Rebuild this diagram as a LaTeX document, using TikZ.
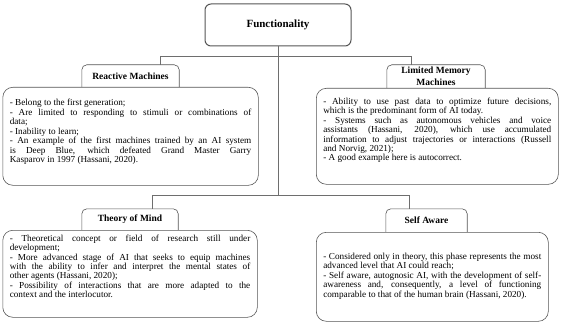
\documentclass[tikz,border=0pt]{standalone}
\usepackage{fontspec}
\setmainfont{Liberation Serif}
\usetikzlibrary{positioning}
\definecolor{framegray}{RGB}{85,85,85}
\definecolor{linkgray}{RGB}{110,110,110}
\tikzset{
  topbox/.style={rectangle, rounded corners=6pt, draw=framegray, line width=1pt,
                 minimum width=146pt, minimum height=42pt,
                 font=\fontsize{11}{13}\selectfont\bfseries},
  headbox/.style={rectangle, inner sep=0pt, align=center,
                  font=\fontsize{9.5}{11.5}\selectfont\bfseries},
  headline/.style={draw=framegray, line width=0.6pt, rounded corners=5pt},
  textbox/.style={rectangle, rounded corners=10pt, draw=framegray, line width=0.6pt,
                  fill=white, anchor=north west, align=justify,
                  inner xsep=7pt, inner ysep=0pt,
                  font=\fontsize{9.2}{9.45}\selectfont},
  link/.style={draw=linkgray, line width=0.6pt},
}

\begin{document}
\begin{tikzpicture}[x=1pt, y=-1pt]
  \useasboundingbox (0,0) rectangle (567,326);

  % root
  \node[topbox] (fun) at (278,25) {Functionality};

  % junctions
  \coordinate (rmj) at (160,56);
  \coordinate (lmj) at (411,56);
  \coordinate (tmj) at (152,195);
  \coordinate (saj) at (409,195);

  % tabs
  \node[headbox, minimum width=97pt, minimum height=22pt] (rmh) at (130.5,76) {Reactive Machines};
  \node[headbox, minimum width=98pt, minimum height=23pt] (lmh) at (436,76.5) {Limited Memory\\Machines};
  \node[headbox, minimum width=96pt, minimum height=21pt] (tmh) at (130,219.5) {Theory of Mind};
  \node[headbox, minimum width=81pt, minimum height=23pt] (sah) at (426.5,220.5) {Self Aware};
  \foreach \h in {rmh, lmh, tmh, sah}
    \draw[headline] (\h.south west) |- (\h.north) -| (\h.south east);

  % contents
  \node[textbox, text width=241.5pt, text height=18.5pt, text depth=79.5pt] (rm) at (2.5,87)
    {- Belong to the first generation;\\
     - Are limited to responding to stimuli or combinations of\linebreak data;\\
     - Inability to learn;\\
     - An example of the first machines trained by an AI system\linebreak is Deep Blue, which defeated Grand Master Garry\linebreak Kasparov in 1997 (Hassani, 2020).};
  \node[textbox, text width=228pt, text height=16pt, text depth=80pt] (lm) at (316,88)
    {- Ability to use past data to optimize future decisions,\linebreak which is the predominant form of AI today.\\
     - Systems such as autonomous vehicles and voice\linebreak assistants (Hassani, 2020), which use accumulated\linebreak information to adjust trajectories or interactions (Russell\linebreak and Norvig, 2021);\\
     - A good example here is autocorrect.};
  \node[textbox, text width=240.5pt, text height=10.8pt, text depth=76.2pt] (tm) at (2.5,230)
    {- Theoretical concept or field of research still under\linebreak development;\\
     - More advanced stage of AI that seeks to equip machines\linebreak with the ability to infer and interpret the mental states of\linebreak other agents (Hassani, 2020);\\
     - Possibility of interactions that are more adapted to the\linebreak context and the interlocutor.};
  \node[textbox, text width=218pt, text height=27.2pt, text depth=61.8pt] (sa) at (316,232)
    {- Considered only in theory, this phase represents the most\linebreak advanced level that AI could reach;\\
     - Self aware, autognosic AI, with the development of self-\linebreak awareness and, consequently, a level of functioning\linebreak comparable to that of the human brain (Hassani, 2020).};

  % connectors
  \draw[link] (fun.south) -- (fun.south |- tmj);
  \draw[link] (rmj) -- (lmj);
  \draw[link] (rmj) -- (rmj |- rmh.north);
  \draw[link] (lmj) -- (lmj |- lmh.north);
  \draw[link] (tmj) -- (saj);
  \draw[link] (tmj) -- (tmj |- tmh.north);
  \draw[link] (saj) -- (saj |- sah.north);
\end{tikzpicture}
\end{document}
